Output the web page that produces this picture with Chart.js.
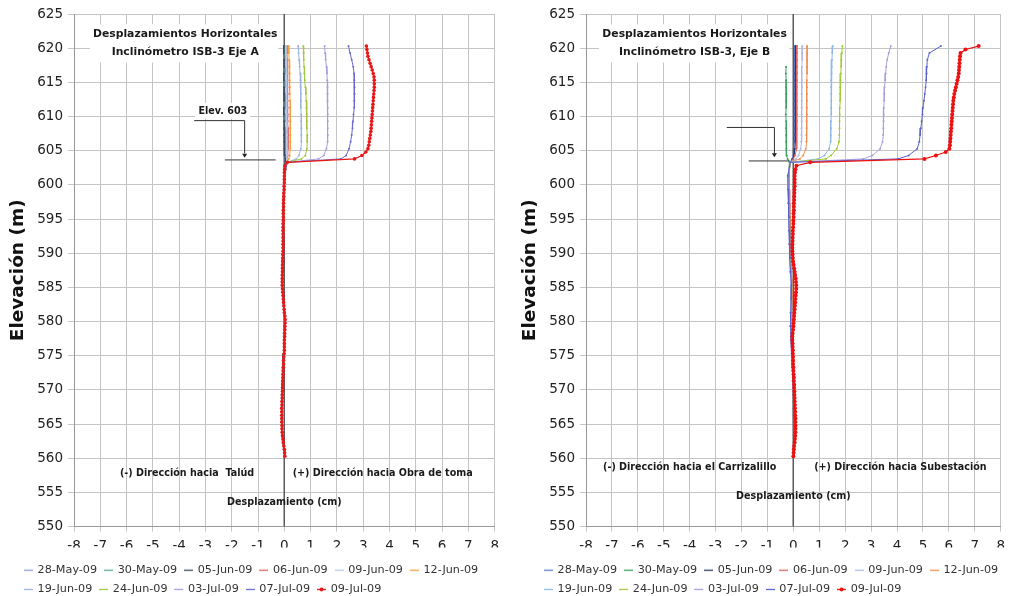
<!DOCTYPE html>
<html><head><meta charset="utf-8">
<script src="https://cdn.jsdelivr.net/npm/chart.js@4.4.1/dist/chart.umd.min.js"></script>
<style>
html,body{margin:0;padding:0;background:#fff;overflow:hidden;width:1012px;height:596px}
.p{position:absolute;top:0;height:596px}
#wa{left:0;width:506px}
#wb{left:512px;width:500px}
</style></head><body>
<div class="p" id="wa"><canvas id="ca" width="506" height="596"></canvas></div>
<div class="p" id="wb"><canvas id="cb" width="500" height="596"></canvas></div>
<script>
const DATES = ['28-May-09','30-May-09','05-Jun-09','06-Jun-09','09-Jun-09','12-Jun-09','19-Jun-09','24-Jun-09','03-Jul-09','07-Jul-09','09-Jul-09'];
const X_TICKS = [-8,-7,-6,-5,-4,-3,-2,-1,0,1,2,3,4,5,6,7,8];
const Y_TICKS = [550,555,560,565,570,575,580,585,590,595,600,605,610,615,620,625];

// elevations of readings (m)
const ELEV_FINE = [
620.3,619.8,619.3,618.8,618.3,617.8,617.3,616.8,616.3,615.8,
615.3,614.8,614.3,613.8,613.3,612.8,612.3,611.8,611.3,610.8,
610.3,609.8,609.3,608.8,608.3,607.8,607.3,606.8,606.3,605.8,
605.3,604.8,604.3,603.8,603.3,602.8,602.3,601.8,601.3,600.8,
600.3,599.8,599.3,598.8,598.3,597.8,597.3,596.8,596.3,595.8,
595.3,594.8,594.3,593.8,593.3,592.8,592.3,591.8,591.3,590.8,
590.3,589.8,589.3,588.8,588.3,587.8,587.3,586.8,586.3,585.8,
585.3,584.8,584.3,583.8,583.3,582.8,582.3,581.8,581.3,580.8,
580.3,579.8,579.3,578.8,578.3,577.8,577.3,576.8,576.3,575.8,
575.3,574.8,574.3,573.8,573.3,572.8,572.3,571.8,571.3,570.8,
570.3,569.8,569.3,568.8,568.3,567.8,567.3,566.8,566.3,565.8,
565.3,564.8,564.3,563.8,563.3,562.8,562.3,561.8,561.3,560.8,
560.3];
const ELEV_COARSE = [
620.3,619.3,618.3,617.3,616.3,615.3,614.3,613.3,612.3,611.3,
610.3,609.3,608.3,607.3,606.3,605.3,604.3,603.8,603.3,601.3,
599.3,597.3,595.3,593.3,591.3,589.3,587.3,585.3,583.3,581.3,
579.3,577.3,575.3,573.3,571.3,569.3,567.3,565.3,563.3,561.3,
560.3];

// ---- Eje A displacements (cm) ----
const A_28MAY = [0.00,0.00,0.01,0.01,0.00,0.00,0.01,0.01,0.00,0.00,0.00,0.01,0.01,0.00,0.00,0.01,0.02,0.03,0.05,
0.00,-0.02,-0.03,-0.05,-0.06,-0.06,-0.07,-0.08,-0.09,-0.06,-0.02,0.00,-0.02,-0.03,-0.06,-0.08,-0.10,-0.12,-0.12,-0.09,-0.03,0.00];
const A_30MAY = [0.02,0.02,0.02,0.03,0.03,0.02,0.02,0.03,0.03,0.03,0.02,0.02,0.03,0.03,0.03,0.04,0.05,0.06,0.07,
0.01,0.00,-0.02,-0.03,-0.04,-0.05,-0.06,-0.07,-0.08,-0.05,-0.01,0.01,0.00,-0.02,-0.05,-0.07,-0.09,-0.11,-0.11,-0.08,-0.02,0.01];
const A_05JUN = [-0.02,-0.02,-0.01,-0.01,-0.02,-0.02,-0.01,-0.01,-0.01,-0.02,-0.02,-0.01,-0.01,-0.01,0.00,0.00,0.02,0.04,0.06,
0.00,-0.01,-0.03,-0.04,-0.05,-0.06,-0.06,-0.07,-0.08,-0.05,-0.01,0.01,-0.01,-0.02,-0.05,-0.07,-0.09,-0.10,-0.10,-0.08,-0.02,0.01];
const A_06JUN = [0.10,0.10,0.11,0.11,0.12,0.12,0.12,0.13,0.13,0.13,0.13,0.13,0.14,0.14,0.14,0.14,0.13,0.12,0.10,
0.02,0.01,-0.01,-0.02,-0.03,-0.04,-0.05,-0.06,-0.07,-0.04,0.00,0.02,0.01,0.00,-0.03,-0.05,-0.07,-0.09,-0.09,-0.06,-0.01,0.02];
const A_09JUN = [0.06,0.06,0.07,0.07,0.08,0.08,0.08,0.08,0.09,0.09,0.09,0.09,0.09,0.10,0.10,0.10,0.10,0.10,0.09,
0.01,0.00,-0.02,-0.03,-0.04,-0.05,-0.06,-0.07,-0.08,-0.05,-0.01,0.01,0.00,-0.01,-0.04,-0.06,-0.08,-0.10,-0.10,-0.07,-0.02,0.01];
const A_12JUN = [0.16,0.17,0.18,0.19,0.20,0.20,0.21,0.21,0.22,0.22,0.22,0.23,0.23,0.23,0.23,0.23,0.20,0.17,0.10,
0.02,0.01,-0.01,-0.02,-0.03,-0.04,-0.05,-0.06,-0.07,-0.04,0.00,0.02,0.01,0.00,-0.03,-0.05,-0.07,-0.09,-0.09,-0.06,-0.01,0.02];
const A_19JUN = [0.52,0.54,0.56,0.58,0.60,0.61,0.62,0.63,0.63,0.63,0.64,0.64,0.65,0.65,0.65,0.63,0.55,0.45,0.10,
0.01,0.00,-0.02,-0.03,-0.04,-0.05,-0.06,-0.07,-0.07,-0.04,0.00,0.02,0.01,-0.01,-0.04,-0.06,-0.08,-0.09,-0.09,-0.06,-0.01,0.02];
const A_24JUN = [0.72,0.73,0.74,0.75,0.76,0.78,0.80,0.82,0.83,0.84,0.85,0.86,0.86,0.87,0.87,0.86,0.80,0.65,0.10,
0.01,0.00,-0.02,-0.04,-0.05,-0.05,-0.06,-0.07,-0.08,-0.04,0.00,0.02,0.00,-0.01,-0.04,-0.06,-0.08,-0.10,-0.10,-0.07,-0.01,0.02];
const A_03JUL = [1.53,1.55,1.57,1.60,1.62,1.63,1.64,1.64,1.64,1.65,1.65,1.65,1.65,1.65,1.64,1.60,1.50,1.30,0.11,
0.01,-0.01,-0.03,-0.04,-0.05,-0.05,-0.06,-0.07,-0.08,-0.04,0.00,0.02,0.00,-0.01,-0.04,-0.06,-0.08,-0.10,-0.10,-0.07,-0.01,0.02];
const A_07JUL = [2.44,2.50,2.56,2.62,2.65,2.66,2.67,2.67,2.66,2.65,2.63,2.61,2.59,2.56,2.52,2.46,2.35,2.15,0.11,
0.00,-0.01,-0.03,-0.04,-0.05,-0.05,-0.06,-0.07,-0.08,-0.04,0.00,0.02,0.00,-0.01,-0.04,-0.06,-0.08,-0.10,-0.10,-0.07,0.00,0.02];
const A_09JUL = [
3.12,3.14,3.16,3.18,3.22,3.26,3.30,3.34,3.38,3.41,
3.42,3.42,3.42,3.41,3.40,3.39,3.38,3.37,3.36,3.35,
3.34,3.33,3.32,3.31,3.30,3.29,3.27,3.25,3.23,3.21,
3.18,3.10,2.95,2.67,0.12,0.02,0.01,0.00,0.00,0.00,
0.00,-0.01,-0.01,-0.02,-0.02,-0.03,-0.03,-0.03,-0.04,-0.04,
-0.04,-0.04,-0.05,-0.05,-0.05,-0.05,-0.05,-0.05,-0.05,-0.05,
-0.05,-0.06,-0.06,-0.06,-0.07,-0.07,-0.07,-0.08,-0.08,-0.08,
-0.08,-0.07,-0.06,-0.05,-0.04,-0.03,-0.02,-0.01,0.00,0.02,
0.03,0.03,0.02,0.02,0.01,0.01,0.00,0.00,0.00,0.00,
-0.01,-0.02,-0.03,-0.03,-0.04,-0.04,-0.05,-0.05,-0.06,-0.06,
-0.07,-0.07,-0.08,-0.08,-0.09,-0.09,-0.10,-0.10,-0.10,-0.10,
-0.10,-0.09,-0.09,-0.08,-0.07,-0.05,-0.04,-0.02,0.00,0.01,
0.02];

// ---- Eje B displacements (cm) ----
const B_28MAY = [0.05,0.05,0.05,0.05,0.05,0.05,0.05,0.05,0.04,0.04,0.04,0.04,0.04,0.04,0.03,0.02,0.00,-0.05,-0.12,
-0.18,-0.17,-0.16,-0.15,-0.14,-0.13,-0.11,-0.09,-0.06,-0.07,-0.08,-0.09,-0.07,-0.05,-0.03,-0.02,0.00,0.01,0.02,0.02,0.01,0.00];
const B_30MAY = [null,null,null,-0.28,-0.29,-0.28,-0.28,-0.27,-0.28,-0.28,-0.29,-0.28,-0.28,-0.27,-0.28,-0.27,-0.25,-0.22,-0.15,
-0.20,-0.19,-0.17,-0.16,-0.15,-0.14,-0.12,-0.10,-0.06,-0.07,-0.09,-0.10,-0.08,-0.05,-0.03,-0.02,0.00,0.01,0.02,0.02,0.01,0.00];
const B_05JUN = [0.09,0.09,0.09,0.09,0.08,0.08,0.08,0.08,0.08,0.08,0.08,0.08,0.08,0.07,0.07,0.06,0.03,-0.03,-0.12,
-0.19,-0.18,-0.17,-0.15,-0.14,-0.13,-0.11,-0.09,-0.05,-0.06,-0.08,-0.09,-0.07,-0.05,-0.03,-0.01,0.00,0.01,0.02,0.02,0.01,0.00];
const B_06JUN = [0.14,0.14,0.14,0.14,0.14,0.14,0.13,0.13,0.13,0.13,0.13,0.13,0.13,0.12,0.12,0.11,0.06,0.00,-0.12,
-0.17,-0.16,-0.15,-0.14,-0.13,-0.12,-0.10,-0.08,-0.04,-0.05,-0.07,-0.08,-0.06,-0.04,-0.02,-0.01,0.01,0.02,0.03,0.03,0.02,0.01];
const B_09JUN = [0.34,0.34,0.34,0.33,0.33,0.33,0.33,0.32,0.32,0.32,0.32,0.32,0.31,0.31,0.30,0.28,0.20,0.10,-0.12,
-0.20,-0.19,-0.18,-0.16,-0.15,-0.14,-0.12,-0.10,-0.06,-0.07,-0.09,-0.10,-0.08,-0.06,-0.03,-0.02,0.00,0.01,0.02,0.02,0.01,0.00];
const B_12JUN = [0.53,0.53,0.53,0.53,0.53,0.52,0.52,0.52,0.52,0.52,0.52,0.51,0.51,0.50,0.50,0.48,0.38,0.25,-0.12,
-0.18,-0.17,-0.16,-0.15,-0.14,-0.13,-0.11,-0.09,-0.05,-0.06,-0.08,-0.09,-0.07,-0.05,-0.03,-0.01,0.00,0.01,0.02,0.02,0.01,0.00];
const B_19JUN = [1.52,1.50,1.49,1.48,1.47,1.46,1.46,1.46,1.46,1.46,1.46,1.45,1.45,1.44,1.43,1.38,1.20,0.95,-0.12,
-0.21,-0.20,-0.18,-0.17,-0.16,-0.15,-0.13,-0.11,-0.07,-0.08,-0.10,-0.11,-0.09,-0.06,-0.04,-0.02,0.00,0.01,0.02,0.02,0.01,0.00];
const B_24JUN = [1.89,1.87,1.85,1.84,1.83,1.82,1.81,1.80,1.80,1.79,1.79,1.78,1.78,1.77,1.76,1.68,1.45,1.25,-0.12,
-0.20,-0.19,-0.18,-0.16,-0.15,-0.14,-0.12,-0.10,-0.06,-0.07,-0.09,-0.10,-0.08,-0.05,-0.03,-0.02,0.00,0.01,0.02,0.02,0.01,0.00];
const B_03JUL = [3.76,3.68,3.62,3.58,3.56,3.54,3.52,3.51,3.50,3.49,3.49,3.48,3.47,3.46,3.44,3.35,3.05,2.70,-0.12,
-0.22,-0.21,-0.19,-0.18,-0.17,-0.16,-0.14,-0.12,-0.08,-0.09,-0.11,-0.12,-0.10,-0.07,-0.04,-0.02,0.00,0.01,0.02,0.02,0.01,0.00];
const B_07JUL = [5.69,5.25,5.17,5.15,5.14,5.12,5.10,5.07,5.04,5.00,4.98,4.95,4.92,4.89,4.86,4.78,4.45,4.05,-0.12,
-0.21,-0.20,-0.19,-0.17,-0.16,-0.15,-0.13,-0.11,-0.07,-0.08,-0.10,-0.11,-0.09,-0.06,-0.04,-0.02,0.00,0.01,0.02,0.02,0.01,0.00];
const B_09JUL = [
7.15,6.64,6.45,6.43,6.42,6.41,6.40,6.39,6.38,6.36,
6.33,6.30,6.27,6.24,6.21,6.19,6.17,6.16,6.15,6.14,
6.13,6.12,6.11,6.10,6.09,6.08,6.07,6.06,6.05,6.04,
6.02,5.88,5.50,5.06,0.65,0.12,0.08,0.06,0.05,0.05,
0.05,0.05,0.04,0.04,0.03,0.03,0.02,0.02,0.02,0.01,
0.01,0.00,0.00,-0.01,-0.02,-0.02,-0.03,-0.03,-0.04,-0.04,
-0.04,-0.03,-0.02,-0.01,0.01,0.03,0.05,0.07,0.09,0.10,
0.11,0.11,0.10,0.09,0.08,0.07,0.06,0.05,0.04,0.03,
0.02,0.01,0.00,-0.01,-0.03,-0.04,-0.04,-0.03,-0.03,-0.02,
-0.02,-0.01,-0.01,-0.01,0.00,0.00,0.01,0.02,0.02,0.03,
0.03,0.04,0.04,0.05,0.05,0.06,0.06,0.07,0.07,0.08,
0.08,0.08,0.08,0.08,0.07,0.06,0.05,0.03,0.02,0.01,
0.00];

const SERIES_A = [A_28MAY,A_30MAY,A_05JUN,A_06JUN,A_09JUN,A_12JUN,A_19JUN,A_24JUN,A_03JUL,A_07JUL,A_09JUL];
const SERIES_B = [B_28MAY,B_30MAY,B_05JUN,B_06JUN,B_09JUN,B_12JUN,B_19JUN,B_24JUN,B_03JUL,B_07JUL,B_09JUL];

const COLORS_A = ['#8c9ad8','#5aa89a','#3c4a5a','#e06060','#b8c8e8','#f0a040','#9db4e0','#a0c840','#a8a0dc','#6a6ad0','#e81818'];
const COLORS_B = ['#5b7fd0','#3aa060','#2a3a60','#e06060','#b0b8e8','#f09050','#90b8e8','#a0cc30','#aaa0dd','#5a64cc','#ee1010'];

const FONT = 'DejaVu Sans';

function legendIcon(color, dot){
  const c = document.createElement('canvas');
  c.width = 9; c.height = 7;
  const g = c.getContext('2d');
  g.strokeStyle = color; g.lineWidth = 1.3;
  g.beginPath(); g.moveTo(0, 3.5); g.lineTo(9, 3.5); g.stroke();
  if (dot) { g.fillStyle = color; g.beginPath(); g.arc(4.5, 3.5, 2, 0, Math.PI*2); g.fill(); }
  return c;
}

function buildDatasets(series, colors, redR){
  return series.map((vals, i) => {
    const last = i === series.length - 1;
    const ys = last ? ELEV_FINE : ELEV_COARSE;
    const pts = [];
    vals.forEach((v, k) => { if (v !== null) pts.push({x: v, y: ys[k]}); });
    return {
      label: DATES[i], data: pts, showLine: true,
      borderColor: colors[i], backgroundColor: colors[i],
      borderWidth: last ? 1.2 : 1,
      pointRadius: last ? redR : 1, pointBorderWidth: 0,
      pointBackgroundColor: colors[i], pointHoverRadius: 0,
      order: series.length - i
    };
  });
}

function notesPlugin(cfg){
  function P(chart, x, y){ return [chart.scales.x.getPixelForValue(x), chart.scales.y.getPixelForValue(y)]; }
  return {
    id: 'notes',
    afterLayout(chart){
      const lg = chart.legend;
      if (lg) { lg.left += cfg.legendDx; lg.right += cfg.legendDx; lg.top += cfg.legendDy; lg.bottom += cfg.legendDy; }
    },
    beforeDatasetsDraw(chart){
      const ctx = chart.ctx;
      ctx.save();
      ctx.fillStyle = '#ffffff';
      cfg.boxes.forEach(b => {
        const [x1, y1] = P(chart, b.x1, b.y1), [x2, y2] = P(chart, b.x2, b.y2);
        ctx.fillRect(Math.min(x1,x2), Math.min(y1,y2), Math.abs(x2-x1), Math.abs(y2-y1));
      });
      const [zx, zt] = P(chart, 0, 625), [, zb] = P(chart, 0, 550);
      ctx.strokeStyle = '#5a5a5a'; ctx.lineWidth = 1.5;
      ctx.beginPath(); ctx.moveTo(Math.round(zx)+0.25, zt); ctx.lineTo(Math.round(zx)+0.25, zb); ctx.stroke();
      ctx.restore();
    },
    afterDatasetsDraw(chart){
      const ctx = chart.ctx;
      ctx.save();
      ctx.strokeStyle = '#333'; ctx.lineWidth = 1;
      cfg.lines.forEach(l => {
        ctx.beginPath();
        l.forEach((pt, k) => { const [px, py] = P(chart, pt[0], pt[1]); if (k) ctx.lineTo(px, py); else ctx.moveTo(px, py); });
        ctx.stroke();
      });
      ctx.fillStyle = '#222';
      cfg.arrows.forEach(a => {
        const [px, py] = P(chart, a[0], a[1]);
        ctx.beginPath(); ctx.moveTo(px-2.5, py-3); ctx.lineTo(px+2.5, py-3); ctx.lineTo(px, py+1); ctx.closePath(); ctx.fill();
      });
      ctx.textAlign = 'center'; ctx.textBaseline = 'middle';
      cfg.texts.forEach(t => {
        const [px, py] = P(chart, t.x, t.y);
        ctx.font = 'bold ' + t.size + 'px "' + FONT + '"';
        ctx.fillStyle = '#1a1a1a';
        ctx.fillText(t.text, px, py);
      });
      ctx.restore();
    }
  };
}

function makeChart(id, series, colors, redR, padRight, cfg){
  const icons = colors.map((c, i) => legendIcon(c, i === colors.length - 1));
  return new Chart(document.getElementById(id), {
    type: 'scatter',
    data: { datasets: buildDatasets(series, colors, redR) },
    options: {
      responsive: false, animation: false, devicePixelRatio: 1,
      layout: { padding: { top: 14, left: 0, right: padRight, bottom: 0 } },
      events: [],
      scales: {
        x: {
          type: 'linear', min: -8, max: 8,
          afterBuildTicks: s => { s.ticks = X_TICKS.map(v => ({value: v})); },
          afterFit: s => { s.height = 21; },
          grid: { color: '#c4c4c4', lineWidth: 1, tickLength: 5, drawTicks: true },
          border: { color: '#9a9a9a' },
          ticks: { color: '#222', font: { family: FONT, size: 13.5 }, padding: 7, maxRotation: 0, autoSkip: false }
        },
        y: {
          type: 'linear', min: 550, max: 625,
          afterBuildTicks: s => { s.ticks = Y_TICKS.map(v => ({value: v})); },
          afterFit: s => { s.width = 74; },
          grid: { color: '#c4c4c4', lineWidth: 1, tickLength: 6, drawTicks: true },
          border: { color: '#9a9a9a' },
          ticks: { color: '#222', font: { family: FONT, size: 13.5 }, padding: 5, autoSkip: false },
          title: { display: true, text: 'Elevación (m)', color: '#111', font: { family: FONT, size: 18.5, weight: 'bold' }, padding: { top: 7, bottom: 4 } }
        }
      },
      plugins: {
        tooltip: { enabled: false },
        legend: {
          position: 'bottom', align: 'start',
          labels: {
            usePointStyle: true, pointStyleWidth: 7, padding: 8, color: '#333',
            font: { family: FONT, size: 11.2 },
            generateLabels: ch => ch.data.datasets.map((ds, i) => ({
              text: ds.label, fillStyle: ds.borderColor, strokeStyle: ds.borderColor, lineWidth: 0,
              pointStyle: icons[i], hidden: false, datasetIndex: i, fontColor: '#333'
            }))
          }
        }
      }
    },
    plugins: [notesPlugin(cfg)]
  });
}

makeChart('ca', SERIES_A, COLORS_A, 1.8, 7.5, {
  legendDx: 17, legendDy: 9,
  boxes: [ {x1:-7.4, y1:623.5, x2:-0.23, y2:617.9}, {x1:-3.4, y1:612.0, x2:-1.3, y2:609.7} ],
  lines: [ [[-3.43,609.4],[-1.51,609.4],[-1.51,604.6]], [[-2.26,603.65],[-0.33,603.65]] ],
  arrows: [ [-1.51, 604.1] ],
  texts: [
    {text:'Desplazamientos Horizontales', x:-3.77, y:622.1, size:10.8},
    {text:'Inclinómetro ISB-3 Eje A', x:-3.77, y:619.4, size:10.8},
    {text:'Elev. 603', x:-2.34, y:610.8, size:9.6},
    {text:'(-) Dirección hacia  Talúd', x:-3.7, y:557.7, size:9.6},
    {text:'(+) Dirección hacia Obra de toma', x:3.74, y:557.7, size:9.6},
    {text:'Desplazamiento (cm)', x:0, y:553.5, size:9.6}
  ]
});

makeChart('cb', SERIES_B, COLORS_B, 2, 5, {
  legendDx: 25, legendDy: 9,
  boxes: [ {x1:-7.5, y1:623.5, x2:-0.15, y2:617.9} ],
  lines: [ [[-2.57,608.4],[-0.73,608.4],[-0.73,604.5]], [[-1.72,603.5],[-0.14,603.5]] ],
  arrows: [ [-0.73, 604.2] ],
  texts: [
    {text:'Desplazamientos Horizontales', x:-3.81, y:622.1, size:10.8},
    {text:'Inclinómetro ISB-3, Eje B', x:-3.81, y:619.4, size:10.8},
    {text:'(-) Dirección hacia el Carrizalillo', x:-4.0, y:558.6, size:9.6},
    {text:'(+) Dirección hacia Subestación', x:4.13, y:558.6, size:9.6},
    {text:'Desplazamiento (cm)', x:0, y:554.4, size:9.6}
  ]
});
</script>
</body></html>
